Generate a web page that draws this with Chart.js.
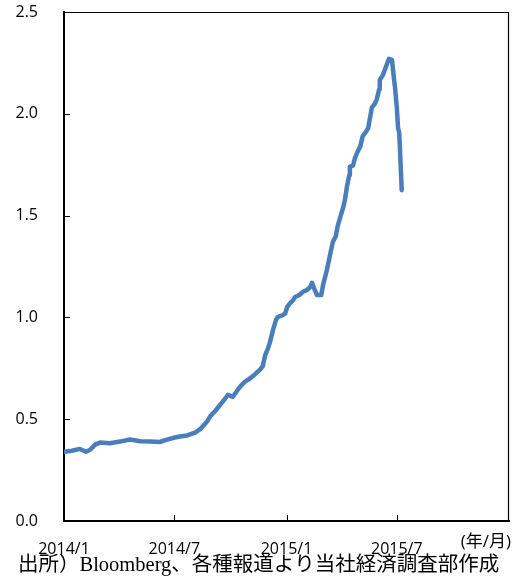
<!DOCTYPE html>
<html>
<head>
<meta charset="utf-8">
<script src="https://cdn.jsdelivr.net/npm/chart.js@4"></script>
<style>
html,body{margin:0;padding:0;background:#fff;}
#wrap{position:relative;width:513px;height:577px;}
</style>
</head>
<body>
<div id="wrap"><canvas id="c" width="513" height="577"></canvas></div>
<script>
const dates = [
"2014-01-01","2014-01-14","2014-01-27","2014-02-06","2014-02-13","2014-02-21","2014-03-01","2014-03-17",
"2014-04-03","2014-04-19","2014-05-06","2014-05-22","2014-06-07","2014-06-19","2014-07-02","2014-07-10",
"2014-07-22","2014-08-04","2014-08-12","2014-08-24","2014-08-29","2014-09-06","2014-09-14","2014-09-22",
"2014-09-27","2014-10-05","2014-10-12","2014-10-17","2014-10-25","2014-11-02","2014-11-10","2014-11-19",
"2014-11-23","2014-11-27","2014-12-02","2014-12-05","2014-12-10","2014-12-15","2014-12-18","2014-12-25",
"2014-12-30","2015-01-02","2015-01-07","2015-01-12","2015-01-15","2015-01-22","2015-01-28","2015-02-04",
"2015-02-09","2015-02-12","2015-02-17","2015-02-20","2015-02-27","2015-03-02","2015-03-08","2015-03-13",
"2015-03-18","2015-03-23","2015-03-26","2015-03-31","2015-04-04","2015-04-07","2015-04-10","2015-04-14",
"2015-04-15","2015-04-20","2015-04-23","2015-04-27","2015-05-02","2015-05-06","2015-05-11","2015-05-15",
"2015-05-18","2015-05-21","2015-05-26","2015-05-29","2015-06-02","2015-06-03","2015-06-08","2015-06-13",
"2015-06-18","2015-06-23","2015-06-26","2015-06-28","2015-07-01","2015-07-03","2015-07-05","2015-07-09"
];
const values = [
0.34,0.345,0.354,0.34,0.35,0.375,0.385,0.382,
0.39,0.40,0.392,0.39,0.388,0.40,0.41,0.415,
0.42,0.434,0.45,0.49,0.515,0.54,0.57,0.60,
0.62,0.61,0.64,0.66,0.685,0.70,0.72,0.745,
0.76,0.815,0.85,0.88,0.94,0.99,1.003,1.01,
1.02,1.05,1.07,1.085,1.10,1.11,1.126,1.135,
1.15,1.17,1.13,1.11,1.11,1.16,1.23,1.30,
1.37,1.40,1.45,1.50,1.54,1.58,1.64,1.70,
1.74,1.745,1.78,1.81,1.84,1.89,1.91,1.93,
1.98,2.03,2.05,2.07,2.12,2.166,2.19,2.23,
2.27,2.265,2.18,2.13,2.03,1.93,1.905,1.625
];
const xTickDates = ["2014-01-01","2014-07-01","2015-01-01","2015-07-01"];
const xTickLabels = ["2014/1","2014/7","2015/1","2015/7"];
const xEndDate = "2016-01-01";
const xUnitLabel = "(年/月)";
const yMin = 0, yMax = 2.5, yStep = 0.5;
const sourceNote = "出所）Bloomberg、各種報道より当社経済調査部作成";

const base = Date.UTC(2014,0,1);
function dayOf(s){const p=s.split('-').map(Number);return (Date.UTC(p[0],p[1]-1,p[2])-base)/86400000;}
const points = dates.map((d,i)=>({x:dayOf(d), y:values[i]}));
const xTickVals = xTickDates.map(dayOf);
const xMax = dayOf(xEndDate);

const tickFont = {family:"'Open Sans', sans-serif", size:16};

const extras = {
  id:'extras',
  afterDraw(chart){
    const ctx = chart.ctx, a = chart.chartArea, xs = chart.scales.x, ys = chart.scales.y;
    ctx.save();
    ctx.strokeStyle = '#000';
    ctx.lineWidth = 1.2;
    ctx.beginPath();
    ctx.moveTo(a.left, a.top+0.5); ctx.lineTo(a.right-0.5, a.top+0.5); ctx.lineTo(a.right-0.5, a.bottom);
    ctx.stroke();
    ctx.lineWidth = 1;
    ctx.beginPath();
    for(let v=yMin+yStep; v<yMax-1e-9; v+=yStep){
      const y = Math.round(ys.getPixelForValue(v))+0.5;
      ctx.moveTo(a.left, y); ctx.lineTo(a.left+6, y);
    }
    xTickVals.forEach(v=>{
      if(v<=0) return;
      const x = Math.round(xs.getPixelForValue(v))+0.5;
      ctx.moveTo(x, a.bottom); ctx.lineTo(x, a.bottom-6);
    });
    ctx.stroke();
    ctx.fillStyle = '#000';
    ctx.font = "17px 'Open Sans', 'Noto Sans CJK JP', sans-serif";
    ctx.textAlign = 'right'; ctx.textBaseline = 'middle';
    ctx.fillText(xUnitLabel, a.right+2, a.bottom+21);
    ctx.font = "20.5px 'Liberation Serif', 'Noto Sans CJK JP', serif";
    ctx.textAlign = 'left'; ctx.textBaseline = 'middle';
    ctx.fillText(sourceNote, 18, 566);
    ctx.restore();
  }
};

new Chart(document.getElementById('c'), {
  type:'line',
  data:{datasets:[{data:points, borderColor:'#4A7EBB', borderWidth:4.5, pointRadius:0, tension:0, fill:false, borderJoinStyle:'round', borderCapStyle:'round'}]},
  options:{
    responsive:false, animation:false, devicePixelRatio:1,
    layout:{padding:{left:0,right:4,top:12,bottom:0}},
    plugins:{legend:{display:false}, tooltip:{enabled:false}},
    scales:{
      x:{type:'linear', min:0, max:xMax,
        afterBuildTicks(s){ s.ticks = xTickVals.map(v=>({value:v})); },
        afterFit(s){ s.height = 56; s.paddingLeft = 0; s.paddingRight = 0; },
        grid:{display:false},
        border:{display:true, color:'#000', width:2},
        ticks:{font:tickFont, color:'#000', maxRotation:0, autoSkip:false, padding:11,
          callback(v){ const i = xTickVals.indexOf(v); return i>=0 ? xTickLabels[i] : ''; }}
      },
      y:{min:yMin, max:yMax,
        afterFit(s){ s.width = 64; s.paddingTop = 0; s.paddingBottom = 0; },
        grid:{display:false},
        border:{display:true, color:'#000', width:2},
        ticks:{stepSize:yStep, font:tickFont, color:'#000', padding:18,
          callback(v){ return Number(v).toFixed(1); }}
      }
    }
  },
  plugins:[extras]
});
</script>
</body>
</html>
